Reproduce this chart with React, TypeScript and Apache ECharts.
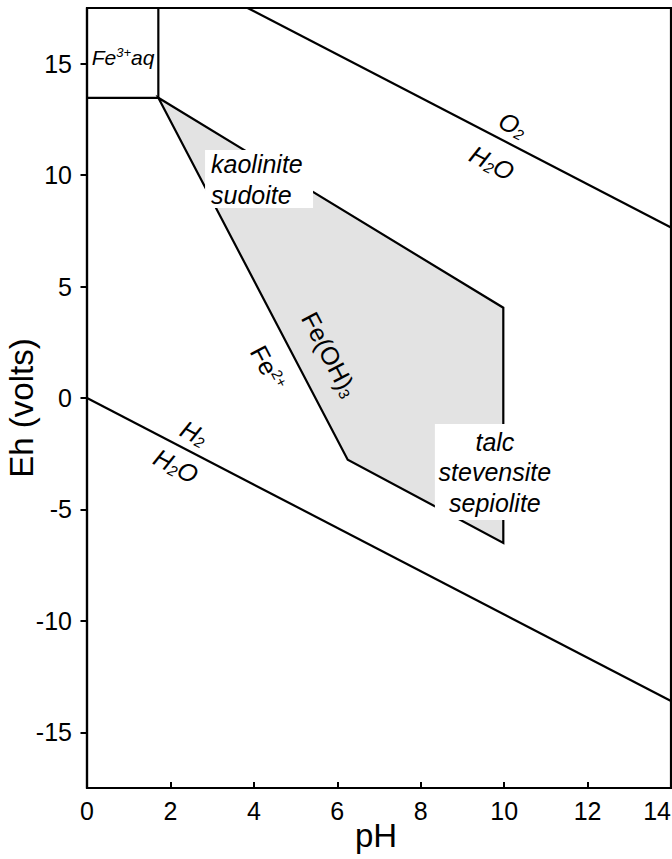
import React, { useEffect, useRef } from "react";
import * as echarts from "echarts";

const FONT = '"Liberation Sans", Arial, Helvetica, sans-serif';

// Axes
const pHRange = [0, 14];
const ehRange = [-17.5, 17.5];
const ehTicks = [-15, -10, -5, 0, 5, 10, 15];

// Stability boundaries, as [pH, Eh] pairs
const oxygenWaterLine = [
  [3.85, 17.5],
  [14, 7.65],
];
const hydrogenWaterLine = [
  [0, 0],
  [14, -13.6],
];
const ferricFloor = [
  [0, 13.47],
  [1.71, 13.47],
];
const ferricWall = [
  [1.71, 13.47],
  [1.71, 17.5],
];

// Fe(OH)3 stability field (shaded polygon)
const hydroxidePH = [1.71, 9.98, 9.98, 6.25];
const hydroxideEh = [13.47, 4.05, -6.5, -2.77];

// Species labels written along the boundaries
const speciesText = [
  "{si|Fe}{sisup|3+}{si|aq}",
  "{i|O}{isub|2}",
  "{i|H}{isub|2}{i|O}",
  "{i|H}{isub|2}",
  "{i|H}{isub|2}{i|O}",
  "{r|Fe(OH)}{sub|3}",
  "{r|Fe}{sup|2+}",
];
const speciesPH = [0.863, 10.21, 9.71, 2.565, 2.134, 5.82, 4.34];
const speciesEh = [15.26, 12.25, 10.55, -1.57, -3.05, 1.95, 1.35];
const speciesAngle = [0, -27.3, -27.3, -27.5, -27.5, -62.4, -62.4];

// Mineral assemblage labels on white panels
const mineralText = ["kaolinite\nsudoite", "talc\nstevensite\nsepiolite"];
const mineralPH = [2.83, 8.34];
const mineralEh = [11.13, -1.17];

const panelLayout = [
  { w: 108, h: 58, tx: 6, ty: -2, align: "left", lineHeight: 31.6 },
  { w: 118, h: 96, tx: 60, ty: 2.6, align: "center", lineHeight: 30.5 },
];

const ink = "#000";
const tok = (extra: Record<string, unknown>) => ({
  fontFamily: FONT,
  fill: ink,
  ...extra,
});
const rich = {
  r: tok({ fontSize: 25, lineHeight: 26, verticalAlign: "middle" }),
  i: tok({ fontSize: 25, lineHeight: 26, verticalAlign: "middle", fontStyle: "italic" }),
  si: tok({ fontSize: 21, lineHeight: 24, verticalAlign: "middle", fontStyle: "italic" }),
  sup: tok({ fontSize: 15, lineHeight: 15, verticalAlign: "top" }),
  sub: tok({ fontSize: 15, lineHeight: 15, verticalAlign: "bottom" }),
  isub: tok({ fontSize: 15, lineHeight: 15, verticalAlign: "bottom", fontStyle: "italic" }),
  sisup: tok({ fontSize: 13, lineHeight: 13, verticalAlign: "top", fontStyle: "italic" }),
};

const boundary = (name: string, data: number[][]) => ({
  type: "line",
  name,
  data,
  symbol: "none",
  silent: true,
  z: 3,
  lineStyle: { color: ink, width: 2.2 },
});

function buildOption() {
  return {
    animation: false,
    backgroundColor: "#fff",
    grid: {
      left: 87,
      right: 1,
      top: 8,
      bottom: 71,
      containLabel: false,
      outerBoundsMode: "none",
      show: true,
      borderColor: ink,
      borderWidth: 2.2,
      backgroundColor: "transparent",
    },
    xAxis: {
      type: "value",
      min: pHRange[0],
      max: pHRange[1],
      interval: 2,
      name: "pH",
      nameLocation: "middle",
      nameGap: 31,
      nameMoveOverlap: false,
      nameTextStyle: { fontFamily: FONT, fontSize: 33, color: ink, padding: [0, 6, 0, 0] },
      axisLine: { show: true, onZero: false, lineStyle: { color: ink, width: 2.2 } },
      axisTick: { show: true, inside: true, length: 6, lineStyle: { color: ink, width: 2 } },
      axisLabel: {
        fontFamily: FONT,
        fontSize: 25,
        color: ink,
        margin: 10,
        alignMaxLabel: "right",
      },
      splitLine: { show: false },
    },
    yAxis: {
      type: "value",
      min: ehRange[0],
      max: ehRange[1],
      name: "Eh (volts)",
      nameLocation: "middle",
      nameGap: 49,
      nameMoveOverlap: false,
      nameTextStyle: { fontFamily: FONT, fontSize: 33, color: ink, padding: [0, 20, 0, 0] },
      axisLine: { show: true, onZero: false, lineStyle: { color: ink, width: 2.2 } },
      axisTick: {
        show: true,
        inside: false,
        length: 6.5,
        customValues: ehTicks,
        lineStyle: { color: ink, width: 2 },
      },
      axisLabel: {
        fontFamily: FONT,
        fontSize: 25,
        color: ink,
        margin: 15,
        customValues: ehTicks,
      },
      splitLine: { show: false },
    },
    series: [
      {
        type: "custom",
        name: "Fe(OH)3 field",
        silent: true,
        z: 2,
        data: [[hydroxidePH[0], hydroxideEh[0]]],
        renderItem: (_params: any, api: any) => ({
          type: "polygon",
          shape: {
            points: hydroxidePH.map((p, i) => api.coord([p, hydroxideEh[i]])),
          },
          style: { fill: "#e3e3e3", stroke: ink, lineWidth: 2.2, lineJoin: "miter" },
        }),
      },
      boundary("O2/H2O", oxygenWaterLine),
      boundary("H2/H2O", hydrogenWaterLine),
      boundary("Fe3+ floor", ferricFloor),
      boundary("Fe3+ wall", ferricWall),
      {
        type: "custom",
        name: "species",
        silent: true,
        z: 6,
        data: speciesPH.map((p, i) => [p, speciesEh[i]]),
        renderItem: (params: any, api: any) => {
          const i = params.dataIndex;
          const [x, y] = api.coord([api.value(0), api.value(1)]);
          return {
            type: "text",
            x,
            y,
            rotation: (speciesAngle[i] * Math.PI) / 180,
            style: {
              text: speciesText[i],
              rich,
              align: "center",
              verticalAlign: "middle",
              fill: ink,
            },
          };
        },
      },
      {
        type: "custom",
        name: "minerals",
        silent: true,
        z: 7,
        data: mineralPH.map((p, i) => [p, mineralEh[i]]),
        renderItem: (params: any, api: any) => {
          const i = params.dataIndex;
          const L = panelLayout[i];
          const [x, y] = api.coord([api.value(0), api.value(1)]);
          return {
            type: "group",
            x,
            y,
            children: [
              {
                type: "rect",
                shape: { x: 0, y: 0, width: L.w, height: L.h },
                style: { fill: "#fff" },
              },
              {
                type: "text",
                x: L.tx,
                y: L.ty,
                style: {
                  text: mineralText[i],
                  fontFamily: FONT,
                  fontSize: 25,
                  fontStyle: "italic",
                  lineHeight: L.lineHeight,
                  fill: ink,
                  align: L.align,
                  verticalAlign: "top",
                },
              },
            ],
          };
        },
      },
    ],
  };
}

export default function App() {
  const ref = useRef<HTMLDivElement>(null);
  useEffect(() => {
    const chart = echarts.init(ref.current!, null, { renderer: "svg" });
    chart.setOption(buildOption() as any);
    return () => chart.dispose();
  }, []);
  return (
    <div
      ref={ref}
      style={{ position: "fixed", left: 0, top: 0, width: 672, height: 859, background: "#fff" }}
    />
  );
}
